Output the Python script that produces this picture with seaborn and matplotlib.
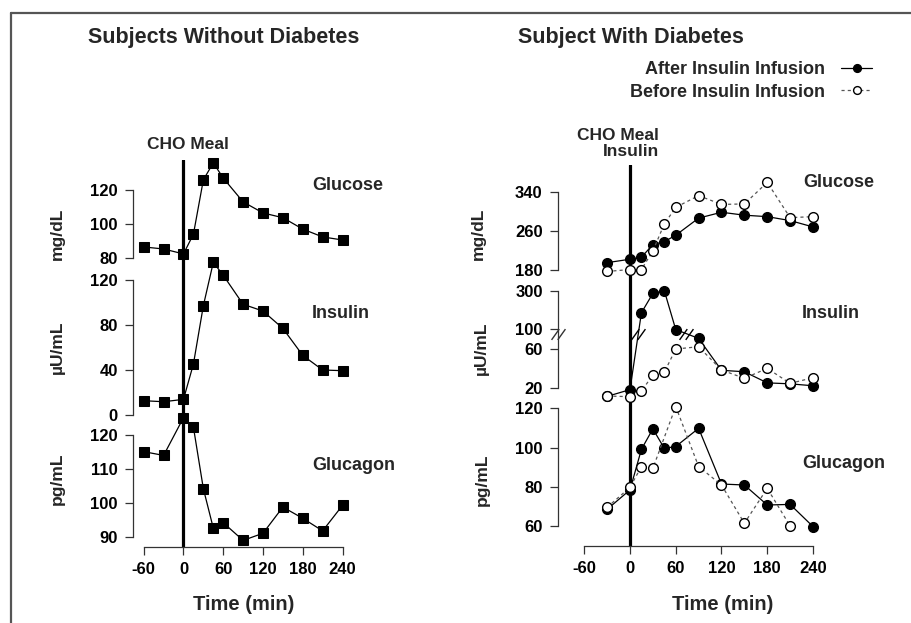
import numpy as np
import matplotlib
matplotlib.use("Agg")
import matplotlib.pyplot as plt
from matplotlib.lines import Line2D
from matplotlib.path import Path
import seaborn as sns

# -----------------------------
# DATA
# -----------------------------
TIME_ND = [-60, -30, 0, 15, 30, 45, 60, 90, 120, 150, 180, 210, 240]
glucose_nd = [86.5, 85.3, 82.4, 94, 126, 136, 127, 113, 106.5, 103.7, 97, 92.4, 90.6]
insulin_nd = [12.7, 11.8, 13.9, 45.3, 97.2, 135.7, 124.2, 98.4, 92.4, 77, 53, 40, 39.4]
glucagon_nd = [115.1, 114.0, 125.1, 122.3, 104.2, 92.6, 94.2, 89.0, 91.1, 98.8, 95.5, 91.8, 99.3]

TIME_D = [-30, 0, 15, 30, 45, 60, 90, 120, 150, 180, 210, 240]
glucose_after = [195, 202, 206, 232, 238, 251, 286, 298, 292, 289, 281, 268]
glucose_before = [177, 181, 181, 219, 274, 308, 332, 314, 315, 359, 287, 289]
insulin_after = [11, 18, 186, 286, 300, 90, 71, 38, 36.5, 25, 24, 22]
insulin_before = [11.4, 10.7, 16.6, 33, 36, 60, 62.4, 38.3, 29.7, 40, 24.5, 30.3]
glucagon_after = [68.5, 78.4, 99.1, 109.5, 99.6, 100.5, 109.8, 81.4, 80.9, 70.7, 71, 59.7]
TIME_GLUCAGON_BEFORE = [-30, 0, 15, 30, 60, 90, 120, 150, 180, 210]
glucagon_before = [69.5, 79.7, 90.3, 89.4, 120.9, 90.3, 80.9, 61.4, 79.2, 60]

XTICKS = [-60, 0, 60, 120, 180, 240]
LABEL_AFTER = "After Insulin Infusion"
LABEL_BEFORE = "Before Insulin Infusion"

# -----------------------------
# STYLE
# -----------------------------
sns.set_style("ticks")
plt.rcParams["font.family"] = ["Liberation Sans", "DejaVu Sans"]
plt.rcParams["font.weight"] = "bold"
plt.rcParams["axes.edgecolor"] = "#333333"
plt.rcParams["axes.linewidth"] = 0.9
plt.rcParams["xtick.color"] = "#333333"
plt.rcParams["ytick.color"] = "#333333"
plt.rcParams["xtick.labelcolor"] = "black"
plt.rcParams["ytick.labelcolor"] = "black"

W, H = 911, 623
fig = plt.figure(figsize=(W / 100, H / 100), dpi=100)
fig.patch.set_facecolor("white")


def add_ax(x0, x1, ytop, ybot):
    return fig.add_axes([x0 / W, 1 - ybot / H, (x1 - x0) / W, (ybot - ytop) / H])


def style(ax, xlim, ylim, yticks, show_x=False):
    ax.set_xlim(xlim)
    ax.set_ylim(ylim)
    ax.patch.set_alpha(0)
    ax.spines["top"].set_visible(False)
    ax.spines["right"].set_visible(False)
    ax.spines["left"].set_bounds(yticks[0], yticks[-1])
    ax.set_yticks(yticks, labels=[str(t) for t in yticks])
    if show_x:
        ax.spines["bottom"].set_bounds(XTICKS[0], XTICKS[-1])
        ax.set_xticks(XTICKS, labels=[str(t) for t in XTICKS])
    else:
        ax.spines["bottom"].set_visible(False)
        ax.set_xticks([])
    ax.tick_params(axis="both", length=6, width=0.9, pad=5, labelsize=12)
    ax.set_xlabel("")
    ax.set_ylabel("")


def square_line(ax, x, y):
    sns.lineplot(x=x, y=y, ax=ax, color="black", linewidth=0.9, marker="s",
                 markersize=6.5, markeredgecolor="black", markerfacecolor="black",
                 errorbar=None, clip_on=False)


def circle_lines(ax, x_after, y_after, x_before, y_before):
    sns.lineplot(x=x_after, y=y_after, ax=ax, color="black", linewidth=0.9, marker="o",
                 markersize=7, markeredgecolor="black", markerfacecolor="black",
                 markeredgewidth=1, errorbar=None, clip_on=False, label=LABEL_AFTER)
    sns.lineplot(x=x_before, y=y_before, ax=ax, color="#555555", linewidth=0.9,
                 linestyle=(0, (2.5, 2.5)), marker="o", markersize=7,
                 markeredgecolor="black", markerfacecolor="white", markeredgewidth=1,
                 errorbar=None, clip_on=False, label=LABEL_BEFORE)
    if ax.get_legend() is not None:
        ax.get_legend().remove()


# -----------------------------
# LEFT PANEL - without diabetes
# -----------------------------
LX = (-76.2, 240)
ov_l = add_ax(133, 342.5, 160, 547)
ov_l.set_xlim(LX)
ov_l.set_ylim(0, 1)
ov_l.axis("off")
ov_l.axvline(0, color="black", lw=2.3)
ov_l.set_zorder(-1)

ax = add_ax(133, 342.5, 190, 258)
square_line(ax, TIME_ND, glucose_nd)
style(ax, LX, (80, 120), [80, 100, 120])

ax = add_ax(133, 342.5, 280, 415)
square_line(ax, TIME_ND, insulin_nd)
style(ax, LX, (0, 120), [0, 40, 80, 120])

ax = add_ax(133, 342.5, 435, 547)
square_line(ax, TIME_ND, glucagon_nd)
style(ax, LX, (87.06, 120), [90, 100, 110, 120], show_x=True)

# -----------------------------
# RIGHT PANEL - with diabetes
# -----------------------------
RX = (-94.4, 240)
ov_r = add_ax(558, 813, 165, 546)
ov_r.set_xlim(RX)
ov_r.set_ylim(0, 1)
ov_r.axis("off")
ov_r.axvline(0, color="black", lw=2.3)
ov_r.set_zorder(-1)

ax_g = add_ax(558, 813, 191.7, 270)
circle_lines(ax_g, TIME_D, glucose_after, TIME_D, glucose_before)
style(ax_g, RX, (180, 340), [180, 260, 340])
handles, labels = ax_g.get_legend_handles_labels()

# broken insulin axis: 20-80 linear, 100-300 compressed
BRK = 76


def fwd(v):
    return np.interp(v, [-1000, 80, 100, 1000], [-1000, 80, 80.36, 260.36])


def inv(v):
    return np.interp(v, [-1000, 80, 80.36, 260.36], [-1000, 80, 100, 1000])


ax_i = add_ax(558, 813, 290.7, 387.7)
ax_i.set_yscale("function", functions=(fwd, inv))
circle_lines(ax_i, TIME_D, insulin_after, TIME_D, insulin_before)
style(ax_i, RX, (20, 300), [20, 60, 100, 300])

brk_marker = Path([(-0.9, -0.7), (0.1, 0.7), (-0.1, -0.7), (0.9, 0.7)],
                  [Path.MOVETO, Path.LINETO, Path.MOVETO, Path.LINETO])
ax_i.plot([RX[0]], [BRK], marker=brk_marker, markersize=10, color="#333333",
          markeredgewidth=1, clip_on=False, zorder=5)
f_after = fwd(np.array(insulin_after, dtype=float))
for i in range(len(f_after) - 1):
    if (f_after[i] - BRK) * (f_after[i + 1] - BRK) < 0:
        t = TIME_D[i] + (BRK - f_after[i]) / (f_after[i + 1] - f_after[i]) * (TIME_D[i + 1] - TIME_D[i])
        ax_i.plot([t], [BRK], marker=brk_marker, markersize=10, color="black",
                  markeredgewidth=1, clip_on=False, zorder=5)

ax_c = add_ax(558, 813, 408.3, 546)
circle_lines(ax_c, TIME_D, glucagon_after, TIME_GLUCAGON_BEFORE, glucagon_before)
style(ax_c, RX, (49.8, 120), [60, 80, 100, 120], show_x=True)

# -----------------------------
# TEXT
# -----------------------------
def ftext(x, y, s, **kw):
    fig.text(x / W, 1 - y / H, s, fontweight="bold", **kw)


ftext(88, 38, "Subjects Without Diabetes", fontsize=15.5, ha="left", va="center")
ftext(518, 38, "Subject With Diabetes", fontsize=15.5, ha="left", va="center")

ftext(188, 144, "CHO Meal", fontsize=12.5, ha="center", va="center")
ftext(659, 143.5, "CHO Meal\nInsulin", fontsize=12.5, ha="right", va="center",
      multialignment="right", linespacing=1.05)

for s, x, y in [("Glucose", 312, 185), ("Insulin", 312, 313), ("Glucagon", 312, 465),
                ("Glucose", 803, 183), ("Insulin", 802, 313), ("Glucagon", 802, 463)]:
    ftext(x, y, s, fontsize=13, ha="left", va="center")

for s, x, y in [("mg/dL", 57, 234), ("µU/mL", 57, 347), ("pg/mL", 57, 479),
                ("mg/dL", 478, 234), ("µU/mL", 481, 348), ("pg/mL", 482, 480)]:
    ftext(x, y, s, fontsize=12.5, ha="center", va="center", rotation=90)

ftext(244, 605, "Time (min)", fontsize=14.5, ha="center", va="center")
ftext(723, 605, "Time (min)", fontsize=14.5, ha="center", va="center")

fig.legend(handles, labels, loc="center right", bbox_to_anchor=(872 / W, 1 - 81 / H),
           frameon=False, markerfirst=False, handlelength=1.7, handletextpad=0.9,
           labelspacing=0.3, borderaxespad=0, borderpad=0, markerscale=0.8,
           prop={"weight": "bold", "size": 13})

# frame
fig.add_artist(Line2D([11 / W, 1], [1 - 13 / H, 1 - 13 / H], color="#555555", lw=1.6))
fig.add_artist(Line2D([11 / W, 11 / W], [0, 1 - 13 / H], color="#555555", lw=1.6))

fig.savefig("out.png", dpi=100)
